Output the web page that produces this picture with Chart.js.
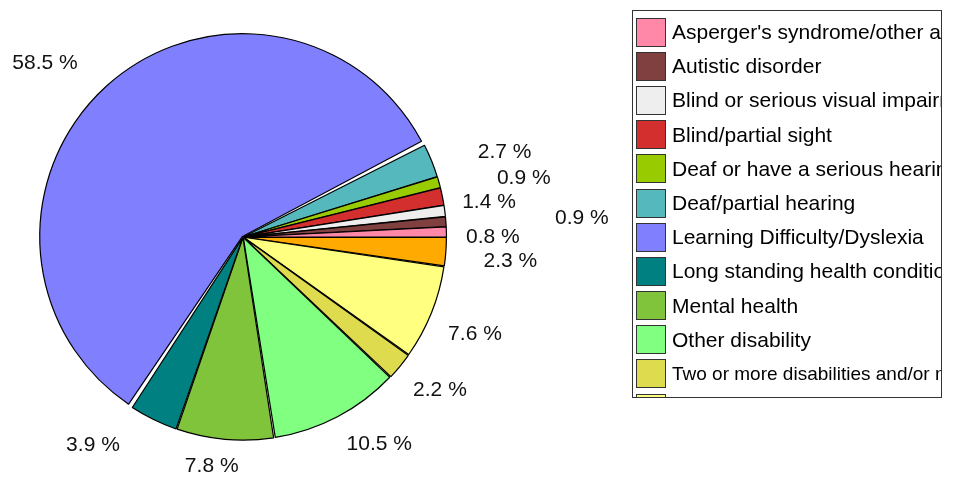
<!DOCTYPE html>
<html>
<head>
    <title>Disability breakdown</title>
    <script src="https://cdn.jsdelivr.net/npm/chart.js"></script>
    <style>
        body {
            margin: 0;
            padding: 0;
            background: #fff;
            font-family: "Liberation Sans", Arial, sans-serif;
        }
        #wrap {
            position: relative;
            width: 966px;
            height: 484px;
        }
        #pie {
            position: absolute;
            left: 0;
            top: 0;
        }
        /* legend box, clipped like the original */
        #legend {
            position: absolute;
            left: 632px;
            top: 10px;
            width: 308px;
            height: 382px;
            border: 1px solid #333;
            overflow: hidden;
            padding-top: 4px;
            box-sizing: content-box;
        }
        .row {
            display: flex;
            align-items: center;
            height: 34.2px;
            white-space: nowrap;
            font-size: 21px;
            color: #000;
        }
        .row.small { font-size: 19px; }
        .sw {
            flex: none;
            width: 28px;
            height: 27px;
            margin-left: 3px;
            margin-right: 6px;
            border: 1px solid #333;
        }
    </style>
</head>
<body>

<div id="wrap">
    <canvas id="pie" width="966" height="484"></canvas>
    <div id="legend"></div>
</div>

<script>
    // categories in legend order
    var labels = [
        "Asperger's syndrome/other autistic spectrum disorder",
        'Autistic disorder',
        'Blind or serious visual impairment',
        'Blind/partial sight',
        'Deaf or have a serious hearing impairment',
        'Deaf/partial hearing',
        'Learning Difficulty/Dyslexia',
        'Long standing health condition',
        'Mental health',
        'Other disability',
        'Two or more disabilities and/or medical conditions',
        'Unseen disability',
        'Wheelchair user/mobility difficulties'
    ];
    // percentages
    var values = [0.8, 0.8, 0.9, 1.4, 0.9, 2.7, 58.5, 3.9, 7.8, 10.5, 2.2, 7.6, 2.3];
    var colors = ['#ff88a8', '#804040', '#eeeeee', '#d32f2f', '#99cc00', '#55b8bd', '#8080ff',
                  '#008080', '#80c43c', '#80ff80', '#dedb4e', '#ffff80', '#ffaa00'];

    // label nudges (px) from the default spot; null = label not shown
    var labelNudge = [[0, 6], null, [91, 13], [1, 15], [40, 8], [30, 9], [-31, 12],
                      [-40, -16], [-9, -20], [20, -14], [4, -6], [0, 4], [18, 6]];

    // legend
    var leg = document.getElementById('legend');
    labels.forEach(function (lab, i) {
        var row = document.createElement('div');
        row.className = 'row' + (i === 10 ? ' small' : '');
        var sw = document.createElement('span');
        sw.className = 'sw';
        sw.style.background = colors[i];
        var tx = document.createElement('span');
        tx.textContent = lab;
        row.appendChild(sw);
        row.appendChild(tx);
        leg.appendChild(row);
    });

    // pie goes counter-clockwise from 3 o'clock, so feed Chart.js reversed
    var rev = function (a) { return a.slice().reverse(); };
    var nudgeRev = rev(labelNudge);

    var pctLabels = {
        id: 'pctLabels',
        afterDatasetsDraw: function (chart) {
            var ctx = chart.ctx;
            var arcs = chart.getDatasetMeta(0).data;
            var vals = chart.data.datasets[0].data;
            ctx.save();
            ctx.font = '21px "Liberation Sans", Arial, sans-serif';
            ctx.fillStyle = '#111';
            ctx.textAlign = 'center';
            ctx.textBaseline = 'middle';
            arcs.forEach(function (arc, i) {
                var n = nudgeRev[i];
                if (!n) return;
                var mid = (arc.startAngle + arc.endAngle) / 2;
                var d = arc.outerRadius + 49;
                var x = arc.x + Math.cos(mid) * d + n[0];
                var y = arc.y + Math.sin(mid) * d + n[1];
                ctx.fillText(vals[i].toFixed(1) + ' %', x, y);
            });
            ctx.restore();
        }
    };

    new Chart(document.getElementById('pie'), {
        type: 'pie',
        data: {
            labels: rev(labels),
            datasets: [{
                data: rev(values),
                backgroundColor: rev(colors),
                borderColor: '#000',
                borderWidth: 1.2,
                offset: 3,
                spacing: 2,
                radius: 201
            }]
        },
        options: {
            responsive: false,
            animation: false,
            rotation: 90,
            layout: { padding: { left: 0, top: 0, right: 480, bottom: 10 } },
            plugins: {
                legend: { display: false },
                tooltip: { enabled: false }
            },
            events: []
        },
        plugins: [pctLabels]
    });
</script>

</body>
</html>
